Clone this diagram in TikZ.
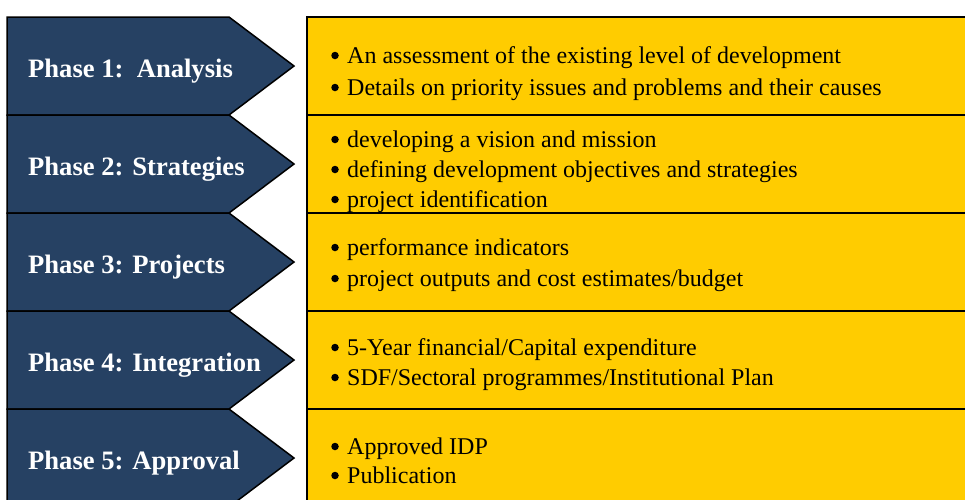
\documentclass[tikz,border=0pt]{standalone}
\usepackage{fontspec}
\setmainfont{Liberation Serif}
\definecolor{navy}{HTML}{264163}
\definecolor{gold}{HTML}{FFCC00}
\tikzset{
  chev/.style={fill=navy, draw=black, line width=1.5pt, line join=miter},
  ybox/.style={fill=gold, draw=black, line width=1.5pt},
  phase/.style={anchor=base west, inner sep=0pt, text=white, font=\fontsize{26.6}{30}\selectfont\bfseries},
  item/.style={anchor=base west, inner sep=0pt, text=black, font=\fontsize{24}{30}\selectfont},
  dot/.style={circle, fill=black, inner sep=0pt, minimum size=7.5pt},
}
\newcommand{\itm}[3]{%
  \node[dot] (#1d) at (335,#2-7.5) {};
  \node[item] (#1) at (347,#2) {#3};
}
\begin{document}
\begin{tikzpicture}[x=1pt,y=-1pt]
\useasboundingbox (0,0) rectangle (965,499);
\clip (0,0) rectangle (965,499);
\fill[white] (0,0) rectangle (965,499);
\foreach \t in {17,115,213,311,409}{
  \draw[chev] (7,\t) -- (229,\t) -- (294,\t+49) -- (229,\t+98) -- (7,\t+98) -- cycle;
  \draw[ybox] (307,\t) rectangle (990,\t+98);
}
\node[phase] (p1) at (28,77) {Phase 1:\ \ Analysis};
\node[phase] (p2) at (28,175) {Phase 2: Strategies};
\node[phase] (p3) at (28,273) {Phase 3: Projects};
\node[phase] (p4) at (28,371) {Phase 4: Integration};
\node[phase] (p5) at (28,469) {Phase 5: Approval};
\itm{a1}{63}{An assessment of the existing level of development}
\itm{a2}{95}{Details on priority issues and problems and their causes}
\itm{b1}{147}{developing a vision and mission}
\itm{b2}{177}{defining development objectives and strategies}
\itm{b3}{207}{project identification}
\itm{c1}{255}{performance indicators}
\itm{c2}{286}{project outputs and cost estimates/budget}
\itm{d1}{355}{5-Year financial/Capital expenditure}
\itm{d2}{385}{SDF/Sectoral programmes/Institutional Plan}
\itm{e1}{454}{Approved IDP}
\itm{e2}{483}{Publication}
\end{tikzpicture}
\end{document}
